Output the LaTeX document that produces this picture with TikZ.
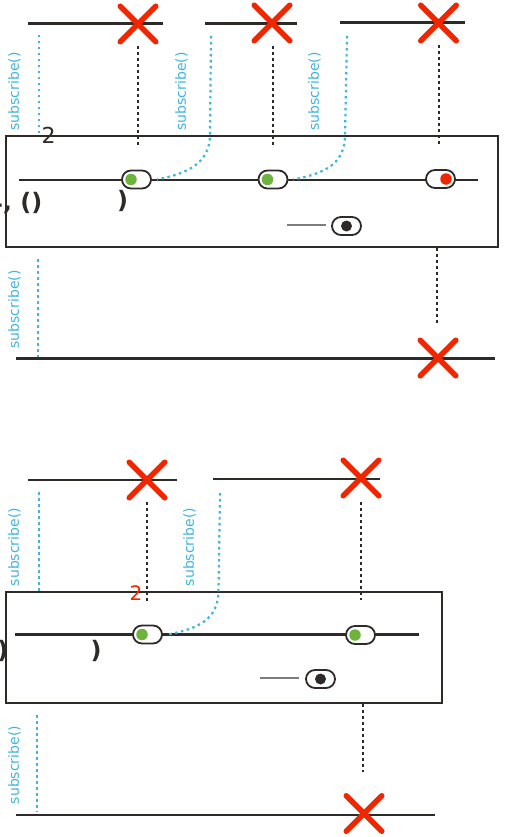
\documentclass[tikz,border=0pt]{standalone}
\usepackage{fontspec}
\setmainfont{DejaVu Sans}
\usetikzlibrary{shapes.misc}
\definecolor{ink}{RGB}{45,42,40}
\definecolor{subblue}{RGB}{64,181,222}
\definecolor{xred}{RGB}{240,38,0}
\definecolor{okgreen}{RGB}{108,180,60}
\definecolor{lightink}{RGB}{125,125,125}
\begin{document}
\begin{tikzpicture}[x=1pt,y=-1pt,
	track/.style={draw=ink, line width=2.2pt},
	endmark/.style={cross out, draw=xred, line width=5.5pt, line cap=round, minimum size=30pt, inner sep=0pt},
	marble/.style={draw=ink, fill=white, line width=1.8pt, rounded corners=9pt, minimum width=29pt, minimum height=18pt, inner sep=0pt},
	marbledot/.style={circle, fill=#1, minimum size=11.5pt, inner sep=0pt},
	subpath/.style={subblue, line width=2.2pt, dash pattern=on 2.5pt off 3.5pt},
	stoppath/.style={ink, line width=2.2pt, dash pattern=on 3pt off 3pt},
	sublabel/.style={rotate=90, text=subblue, font=\fontsize{14}{16}\selectfont, inner sep=0pt},
	panel/.style={draw=ink, line width=1.8pt, inner sep=0pt},
	optext/.style={text=ink, inner sep=0pt, font=\bfseries\fontsize{24}{26}\selectfont}]
	
	\useasboundingbox (0,0) rectangle (527,837);
	
	\coordinate (a1) at (28,23.5);
	\coordinate (a2) at (163,23.5);
	\coordinate (b1) at (205,23.5);
	\coordinate (b2) at (297,23.5);
	\coordinate (c1) at (340,22.5);
	\coordinate (c2) at (465,22.5);
	\draw[track] (a1) -- (a2);
	\draw[track] (b1) -- (b2);
	\draw[track] (c1) -- (c2);
	
	\node[panel, minimum width=492pt, minimum height=111pt] (box1) at (252,191.5) {};
	\coordinate (in1) at (19,180);
	\coordinate (out1) at (478,180);
	\draw[track] (in1) -- (out1);
	
	\node[marble] (m1) at (136.5,179.5) {};
	\node[marbledot=okgreen] (d1) at ([xshift=-5.5pt]m1.center) {};
	\node[marble] (m2) at (273,179.5) {};
	\node[marbledot=okgreen] (d2) at ([xshift=-5.5pt]m2.center) {};
	\node[marble] (m3) at (440.5,179) {};
	\node[marbledot=xred] (d3) at ([xshift=5.5pt]m3.center) {};
	
	\coordinate (g1) at (287,225);
	\node[marble] (m4) at (346.5,226) {};
	\node[marbledot=ink, minimum size=11pt] (d4) at (m4.center) {};
	\draw[lightink, line width=1.8pt] (g1) -- ++(39,0);
	
	\coordinate (s1) at (39,35);
	\coordinate (s2) at (211,36);
	\coordinate (s3) at (347,36);
	\draw[subpath] (s1) -- (s1 |- box1.north);
	\draw[subpath] (s2) -- ++(-1,98) .. controls +(0,30) and +(30,-6) .. ([xshift=5pt]m1.east);
	\draw[subpath] (s3) -- ++(-2,99) .. controls +(0,30) and +(30,-6) .. ([xshift=5pt]m2.east);
	\node[sublabel] (l1) at (14.5,91.5) {subscribe()};
	\node[sublabel] (l2) at (181.5,91.5) {subscribe()};
	\node[sublabel] (l3) at (314.5,91.5) {subscribe()};
	
	\node[endmark] (x1) at (138,24) {};
	\node[endmark] (x2) at (272,23) {};
	\node[endmark] (x3) at (438.5,23) {};
	\coordinate (e1) at (138,146);
	\coordinate (e2) at (273,145);
	\coordinate (e3) at (439,145);
	\draw[stoppath] (138,46) -- (e1);
	\draw[stoppath] (273,46) -- (e2);
	\draw[stoppath] (439,45) -- (e3);
	
	\node[text=ink, inner sep=0pt, font=\fontsize{22}{24}\selectfont] (n1) at (48.5,135.5) {2};
	\node[optext, anchor=east] (t1) at (42.5,203) {4, ()};
	\node[optext] (t2) at (122.5,201) {)};
	
	\coordinate (s4) at (38,259);
	\coordinate (e4) at (437,323);
	\draw[subpath] (s4) -- ++(0,98);
	\draw[stoppath] (box1.south -| e4) -- (e4);
	\node[sublabel] (l4) at (14.5,309.5) {subscribe()};
	\coordinate (f1) at (16,358.5);
	\coordinate (f2) at (495,358.5);
	\draw[track] (f1) -- (f2);
	\node[endmark] (x4) at (438,358) {};
	
	
	\coordinate (h1) at (28,480);
	\coordinate (h2) at (177,480);
	\coordinate (k1) at (213,479);
	\coordinate (k2) at (380,479);
	\draw[track] (h1) -- (h2);
	\draw[track] (k1) -- (k2);
	
	\node[panel, minimum width=436pt, minimum height=111pt] (box2) at (224,647.5) {};
	\coordinate (in2) at (15,634.5);
	\coordinate (out2) at (419,634.5);
	\draw[track] (in2) -- (out2);
	
	\node[marble] (m5) at (147.5,634.5) {};
	\node[marbledot=okgreen] (d5) at ([xshift=-5.5pt]m5.center) {};
	\node[marble] (m6) at (360.5,635) {};
	\node[marbledot=okgreen] (d6) at ([xshift=-5.5pt]m6.center) {};
	
	\coordinate (g2) at (260,678);
	\node[marble] (m7) at (320.5,679) {};
	\node[marbledot=ink, minimum size=11pt] (d7) at (m7.center) {};
	\draw[lightink, line width=1.8pt] (g2) -- ++(39,0);
	
	\coordinate (s5) at (39,492);
	\coordinate (s6) at (220,493);
	\draw[subpath] (s5) -- (s5 |- box2.north);
	\draw[subpath] (s6) -- ++(-1.5,97) .. controls +(0,30) and +(30,-6) .. ([xshift=5pt]m5.east);
	\node[sublabel] (l5) at (14.5,547) {subscribe()};
	\node[sublabel] (l6) at (189.5,547) {subscribe()};
	
	\node[endmark] (x5) at (147,480) {};
	\node[endmark] (x6) at (361,478) {};
	\coordinate (e5) at (147,602);
	\coordinate (e6) at (361,600);
	\draw[stoppath] (147,502) -- (e5);
	\draw[stoppath] (361,502) -- (e6);
	
	\node[text=xred, inner sep=0pt, font=\fontsize{20}{22}\selectfont] (n2) at (136,593.5) {2};
	\node[optext, anchor=east] (t3) at (8.5,651) {)};
	\node[optext] (t4) at (96,651) {)};
	
	\coordinate (s7) at (37,715);
	\coordinate (e7) at (363,772);
	\draw[subpath] (s7) -- ++(0,97);
	\draw[stoppath] (box2.south -| e7) -- (e7);
	\node[sublabel] (l7) at (14.5,765) {subscribe()};
	\coordinate (f3) at (16,815);
	\coordinate (f4) at (435,815);
	\draw[track] (f3) -- (f4);
	\node[endmark] (x7) at (364,813.5) {};
	
\end{tikzpicture}
\end{document}
